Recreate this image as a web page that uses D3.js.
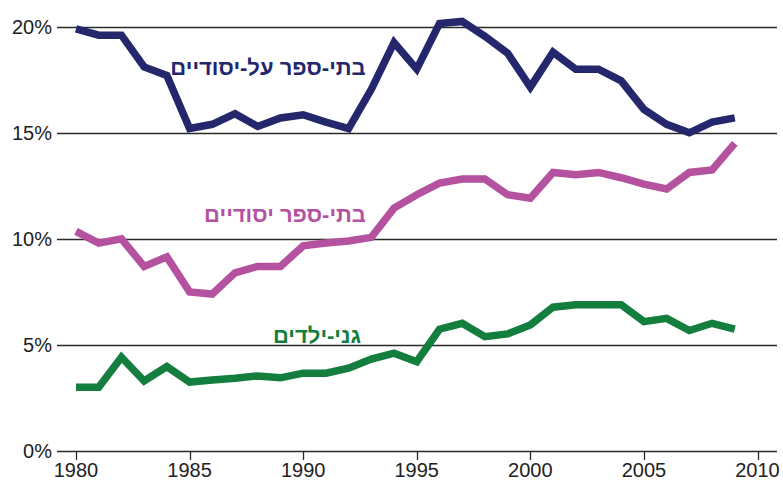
<!DOCTYPE html>
<html lang="he">
<head>
  <meta charset="UTF-8" />
  <title>שיעור התלמידים</title>
  <style>
    body { margin: 0; background: #fff; }
    svg text { font-family: "Liberation Sans", Arial, sans-serif; }
  </style>
</head>
<body>
  <svg id="chart" width="783" height="481"></svg>

  <script src="https://cdn.jsdelivr.net/npm/d3@7"></script>
  <script>
    // years and three series (percent)
    const years = d3.range(1980, 2010);

    const highSchools = [
      19.9, 19.6, 19.6, 18.1, 17.7, 15.2, 15.4, 15.9, 15.3, 15.7,
      15.85, 15.5, 15.2, 17.05, 19.25, 18.0, 20.15, 20.25, 19.55, 18.75,
      17.15, 18.8, 18.0, 18.0, 17.45, 16.1, 15.4, 15.0, 15.5, 15.7
    ];
    const primarySchools = [
      10.35, 9.8, 10.0, 8.7, 9.15, 7.5, 7.4, 8.4, 8.7, 8.7,
      9.67, 9.8, 9.9, 10.07, 11.45, 12.08, 12.63, 12.82, 12.82, 12.08,
      11.92, 13.13, 13.02, 13.13, 12.88, 12.58, 12.35, 13.13, 13.25, 14.5
    ];
    const kindergartens = [
      3.0, 3.0, 4.42, 3.3, 3.98, 3.25, 3.35, 3.43, 3.54, 3.45,
      3.67, 3.67, 3.9, 4.33, 4.61, 4.21, 5.74, 6.02, 5.39, 5.52,
      5.94, 6.78, 6.89, 6.89, 6.89, 6.1, 6.25, 5.68, 6.02, 5.74
    ];

    const xTicks = [1980, 1985, 1990, 1995, 2000, 2005, 2010];
    const yTicks = [0, 5, 10, 15, 20];

    const series = [
      { name: "בתי-ספר על-יסודיים", values: highSchools, color: "#25276d", lx: 268, ly: 75 },
      { name: "בתי-ספר יסודיים", values: primarySchools, color: "#b5529f", lx: 285, ly: 222 },
      { name: "גני-ילדים", values: kindergartens, color: "#137e3d", lx: 317, ly: 343 }
    ];

    const svg = d3.select("#chart");

    const x = d3.scaleLinear().domain([1980, 2010]).range([76, 757.5]);
    const y = d3.scaleLinear().domain([0, 20]).range([451, 26.7]);

    // horizontal grid
    svg.append("g")
      .selectAll("line")
      .data(yTicks)
      .join("line")
      .attr("x1", 57)
      .attr("x2", 777)
      .attr("y1", d => Math.round(y(d)) + 0.5)
      .attr("y2", d => Math.round(y(d)) + 0.5)
      .attr("stroke", "#2a2a2a")
      .attr("stroke-width", 1.3);

    svg.append("g")
      .selectAll("text")
      .data(yTicks)
      .join("text")
      .attr("x", 52)
      .attr("y", d => y(d))
      .attr("dy", "0.36em")
      .attr("text-anchor", "end")
      .attr("font-size", 20)
      .attr("fill", "#222")
      .text(d => d + "%");

    // x axis ticks
    const xAxis = svg.append("g");
    xAxis.selectAll("line")
      .data(xTicks)
      .join("line")
      .attr("x1", d => Math.round(x(d)) + 0.5)
      .attr("x2", d => Math.round(x(d)) + 0.5)
      .attr("y1", 451)
      .attr("y2", 460)
      .attr("stroke", "#2a2a2a")
      .attr("stroke-width", 1.3);
    xAxis.selectAll("text")
      .data(xTicks)
      .join("text")
      .attr("x", d => x(d))
      .attr("y", 477)
      .attr("text-anchor", "middle")
      .attr("font-size", 20)
      .attr("fill", "#222")
      .text(d => d);

    const line = d3.line()
      .x((d, i) => x(years[i]))
      .y(d => y(d));

    svg.append("g")
      .selectAll("path")
      .data(series)
      .join("path")
      .attr("d", d => line(d.values))
      .attr("fill", "none")
      .attr("stroke", d => d.color)
      .attr("stroke-width", 7.5)
      .attr("stroke-linejoin", "miter")
      .attr("stroke-linecap", "butt");

    svg.append("g")
      .selectAll("text")
      .data(series)
      .join("text")
      .attr("x", d => d.lx)
      .attr("y", d => d.ly)
      .attr("text-anchor", "middle")
      .attr("direction", "rtl")
      .attr("font-size", 22)
      .attr("font-weight", "bold")
      .attr("fill", d => d.color)
      .text(d => d.name);
  </script>
</body>
</html>
